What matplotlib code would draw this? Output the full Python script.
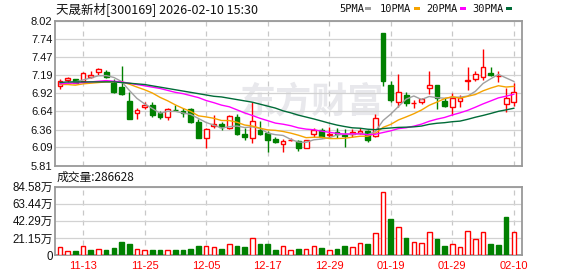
import matplotlib
matplotlib.use('Agg')
import matplotlib.pyplot as plt
import numpy as np
import pandas as pd

# ---------------- data ----------------
dates = ['11-10', '11-11', '11-12', '11-13', '11-14', '11-17', '11-18', '11-19', '11-20', '11-21',
         '11-24', '11-25', '11-26', '11-27', '11-28', '12-01', '12-02', '12-03', '12-04', '12-05',
         '12-08', '12-09', '12-10', '12-11', '12-12', '12-15', '12-16', '12-17', '12-18', '12-19',
         '12-22', '12-23', '12-24', '12-25', '12-26', '12-29', '12-30', '12-31', '01-05', '01-06',
         '01-07', '01-08', '01-09', '01-19', '01-20', '01-21', '01-22', '01-23', '01-26', '01-27',
         '01-28', '01-29', '01-30', '02-02', '02-03', '02-04', '02-05', '02-06', '02-09', '02-10']

opens = [7.03, 7.12, 7.13, 7.11, 7.17, 7.24, 7.24, 7.08, 7.01, 6.80,
         6.61, 6.70, 6.74, 6.61, 6.56, 6.665, 6.64, 6.68, 6.48, 6.23,
         6.42, 6.45, 6.39, 6.555, 6.30, 6.23, 6.35, 6.305, 6.22, 6.14,
         6.195, 6.18, 6.08, 6.29, 6.35, 6.28, 6.33, 6.28, 6.30, 6.315,
         6.34, 6.27, 7.84, 7.04, 6.78, 6.89, 6.765, 6.78, 6.99, 7.04,
         6.80, 6.70, 6.80, 7.105, 7.135, 7.17, 7.22, 7.175, 6.75, 6.78]
highs = [7.14, 7.16, 7.13, 7.24, 7.25, 7.30, 7.27, 7.14, 7.34, 6.93,
         6.69, 6.78, 6.78, 6.64, 6.69, 6.73, 6.69, 6.69, 6.52, 6.38,
         6.585, 6.47, 6.585, 6.605, 6.38, 6.78, 6.49, 6.34, 6.255, 6.22,
         6.24, 6.20, 6.21, 6.39, 6.39, 6.40, 6.38, 6.365, 6.37, 6.38,
         6.35, 6.60, 7.84, 7.10, 7.21, 6.93, 6.81, 6.85, 7.26, 7.04,
         6.85, 6.92, 6.89, 7.32, 7.25, 7.59, 7.31, 7.26, 6.99, 7.07]
lows = [6.98, 7.08, 7.07, 7.11, 7.145, 7.20, 7.145, 6.92, 6.89, 6.53,
        6.53, 6.68, 6.56, 6.53, 6.51, 6.65, 6.56, 6.46, 6.23, 6.08,
        6.39, 6.35, 6.37, 6.28, 6.21, 6.16, 6.28, 6.015, 6.16, 6.015,
        6.19, 6.04, 6.08, 6.25, 6.23, 6.24, 6.24, 6.10, 6.255, 6.30,
        6.17, 6.25, 7.02, 6.78, 6.71, 6.72, 6.69, 6.75, 6.90, 6.68,
        6.70, 6.585, 6.71, 6.96, 7.10, 7.12, 7.18, 7.09, 6.635, 6.72]
closes = [7.11, 7.15, 7.07, 7.22, 7.20, 7.28, 7.16, 6.93, 6.91, 6.53,
          6.66, 6.74, 6.58, 6.55, 6.67, 6.655, 6.62, 6.47, 6.24, 6.365,
          6.45, 6.40, 6.575, 6.29, 6.25, 6.50, 6.29, 6.21, 6.17, 6.19,
          6.20, 6.08, 6.20, 6.355, 6.25, 6.30, 6.29, 6.26, 6.32, 6.345,
          6.20, 6.535, 7.10, 6.81, 6.93, 6.76, 6.775, 6.83, 7.04, 6.84,
          6.72, 6.84, 6.85, 7.115, 7.205, 7.32, 7.20, 7.185, 6.84, 6.94]
prev_close = 7.05

# volume in 万 (10k lots)
volumes = [9.4, 4.9, 5.3, 11.0, 6.1, 7.3, 6.1, 8.6, 15.9, 13.5,
           7.3, 6.1, 6.1, 6.1, 6.1, 6.1, 6.1, 7.3, 11.0, 11.0,
           9.4, 7.3, 13.5, 11.0, 9.8, 21.6, 13.5, 13.5, 6.1, 10.6,
           6.1, 7.3, 7.3, 11.0, 9.0, 6.1, 7.3, 11.0, 9.8, 14.7,
           13.5, 26.9, 77.9, 45.2, 35.1, 20.8, 15.9, 14.7, 28.1, 19.2,
           11.0, 13.5, 9.8, 30.2, 19.9, 28.1, 13.5, 12.2, 46.5, 28.6628]

ma5_head = [7.05, 7.07, 7.09, 7.12]
ma10_head = [7.05, 7.05, 7.04, 7.06, 7.07, 7.08, 7.09, 7.09, 7.09]
ma20_head = [7.06, 7.07, 7.07, 7.08, 7.09, 7.10, 7.11, 7.10, 7.09, 7.07,
             7.05, 7.03, 7.01, 6.99, 6.96, 6.93, 6.91, 6.88, 6.85]
ma30_head = [7.08, 7.09, 7.09, 7.09, 7.09, 7.09, 7.09, 7.09, 7.08, 7.07,
             7.06, 7.05, 7.03, 7.01, 6.99, 6.97, 6.95, 6.93, 6.91, 6.89,
             6.87, 6.86, 6.84, 6.82, 6.80, 6.78, 6.75, 6.72, 6.69]

price_ticks = [5.81, 6.09, 6.36, 6.64, 6.92, 7.19, 7.47, 7.74, 8.02]
vol_ticks = [0, 21.15, 42.29, 63.44, 84.58]
vol_tick_labels = ['0', '21.15万', '42.29万', '63.44万', '84.58万']
shown_dates = ['11-13', '11-25', '12-05', '12-17', '12-29', '01-19', '01-29', '02-10']
title_text = '天晟新材[300169] 2026-02-10 15:30'
vol_title = '成交量:286628'
ma_names = ['5PMA', '10PMA', '20PMA', '30PMA']
watermark = '东方财富'

# ---------------- derived ----------------
def moving_avg(vals, n, head):
    s = pd.Series(vals).rolling(n).mean().to_numpy()
    s[:n - 1] = head
    return s

mas = [moving_avg(closes, 5, ma5_head), moving_avg(closes, 10, ma10_head),
       moving_avg(closes, 20, ma20_head), moving_avg(closes, 30, ma30_head)]
ma_colors = ['#a0a0a0', '#f5a300', '#ff00ff', '#006b38']

x = np.arange(len(dates))
o = np.array(opens); c = np.array(closes); h = np.array(highs); l = np.array(lows)
up = c >= o
RED = '#ff0000'
GREEN = '#008000'

W, H = 578, 276
fig = plt.figure(figsize=(W / 100, H / 100), dpi=100)
fig.patch.set_facecolor('white')

def fx(px):
    return px / W

def fy(py):
    return 1 - py / H

ax = fig.add_axes([fx(55.3), fy(165.7), fx(522.3 - 55.3), (165.7 - 21) / H])
axv = fig.add_axes([fx(55.3), fy(255), fx(522.3 - 55.3), (255 - 186.7) / H])

xlim = (-0.61, 60.1)
label_pos = [dates.index(d) for d in shown_dates]

for a in (ax, axv):
    a.set_xlim(*xlim)
    a.set_xticks(label_pos)
    a.grid(axis='x', color='#c8c8c8', linestyle=(0, (4, 4)), linewidth=0.9)
    a.grid(axis='y', color='#d2d2d2', linestyle='-', linewidth=0.9)
    a.set_axisbelow(True)
    for s in a.spines.values():
        s.set_color('#999999')
        s.set_linewidth(1.3)
    a.tick_params(length=0, pad=2)

# watermark
ax.text(0.55, 0.44, watermark, transform=ax.transAxes, ha='center', va='center',
        fontsize=26, color='#e8e8ec', fontweight='bold', family=['Noto Sans CJK SC'],
        zorder=0.5, style='italic')

# candles
bw = 0.62
colors = np.where(up, RED, GREEN)
ax.vlines(x, l, h, colors=colors, linewidth=1.0, zorder=2)
bottoms = np.minimum(o, c)
heights = np.maximum(np.abs(c - o), 0.006)
ax.bar(x[up], heights[up], bottom=bottoms[up], width=bw, facecolor='white',
       edgecolor=RED, linewidth=1.0, zorder=3)
ax.bar(x[~up], heights[~up], bottom=bottoms[~up], width=bw, facecolor=GREEN,
       edgecolor=GREEN, linewidth=1.0, zorder=3)

for m, col in zip(mas, ma_colors):
    ax.plot(x, m, color=col, linewidth=1.0, zorder=4)

ax.set_ylim(5.81, 8.02)
ax.set_yticks(price_ticks)
ax.set_yticklabels([f'{t:.2f}' for t in price_ticks], fontsize=8,
                   family='Liberation Sans', color='#111111')
ax.tick_params(axis='x', labelbottom=False)

# volume
prevs = np.concatenate([[prev_close], c[:-1]])
vup = c >= prevs
v = np.array(volumes)
axv.bar(x[vup], v[vup], width=0.6, facecolor='white', edgecolor=RED, linewidth=1.0, zorder=3)
axv.bar(x[~vup], v[~vup], width=0.6, facecolor=GREEN, edgecolor=GREEN, linewidth=1.0, zorder=3)
axv.set_ylim(0, 84.58)
axv.set_yticks(vol_ticks)
axv.set_yticklabels(vol_tick_labels, fontsize=8.3,
                    family=['Liberation Sans', 'Noto Sans CJK SC'], color='#111111')
axv.set_xticklabels(shown_dates, fontsize=8, family='Liberation Sans', color=RED)
axv.tick_params(axis='x', pad=4)

# texts
fig.text(fx(56), fy(9), title_text, fontsize=9, family=['Noto Sans CJK SC'],
         va='center', ha='left', color='#111111')
fig.text(fx(57), fy(177.5), vol_title, fontsize=8.5, family=['Noto Sans CJK SC'],
         va='center', ha='left', color='#111111')

leg_x = [339, 380, 426, 472]
mk_x = [365, 414, 460, 506]
for name, col, tx, mx in zip(ma_names, ma_colors, leg_x, mk_x):
    fig.text(fx(tx), fy(9), name, fontsize=7.5, family='DejaVu Sans Mono',
             va='center', ha='left', color='#111111')
    fig.patches.append(plt.Rectangle((fx(mx), fy(10.3)), fx(6), 3 / H, transform=fig.transFigure,
                                     facecolor=col, edgecolor='none', figure=fig))

fig.savefig('out.png', dpi=100, facecolor='white')
